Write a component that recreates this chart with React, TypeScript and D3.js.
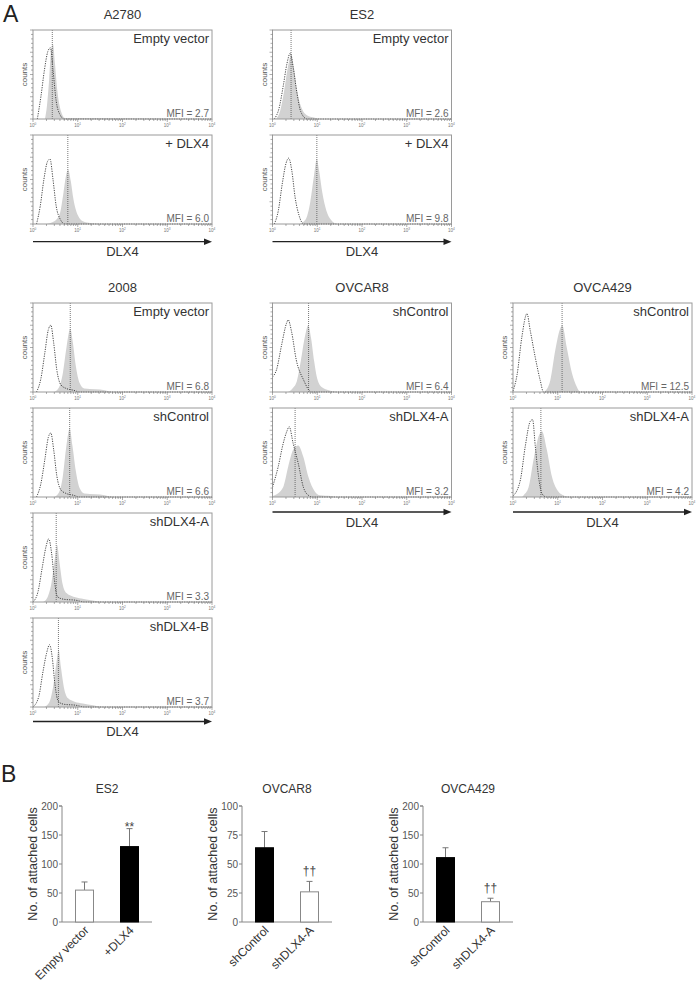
import React from 'react'
import * as d3 from 'd3'

type Pt = [number, number]

// ---------- panel A: flow histograms ----------
// points are [fluorescence, relative counts]; fill = DLX4 stain, iso = isotype control (dotted)
const topLines = ['A2780', 'ES2']
const bottomLines = ['2008', 'OVCAR8', 'OVCA429']

const a2780Labels = ['Empty vector', '+ DLX4']
const a2780Mfi = [2.7, 6.0]
const a2780Fill: Pt[][] = [
  [[1.85, 0], [2.05, 0.15], [2.3, 0.45], [2.55, 0.78], [2.8, 0.84], [3.1, 0.62], [3.5, 0.32], [4.2, 0.09], [5.2, 0.01], [10000, 0]],
  [[2, 0], [3, 0.03], [4, 0.12], [4.8, 0.35], [5.5, 0.55], [6.1, 0.61], [7, 0.48], [8, 0.28], [10, 0.1], [13, 0.03], [19, 0.01], [30, 0], [10000, 0]],
]
const a2780Iso: Pt[][] = [
  [[1.25, 0], [1.5, 0.25], [1.8, 0.55], [2.15, 0.76], [2.45, 0.8], [2.8, 0.55], [3.3, 0.2], [4, 0.05], [5, 0], [10000, 0]],
  [[1.2, 0], [1.45, 0.2], [1.75, 0.5], [2.1, 0.7], [2.4, 0.73], [2.8, 0.5], [3.3, 0.2], [4, 0.06], [5.2, 0], [10000, 0]],
]

const es2Labels = ['Empty vector', '+ DLX4']
const es2Mfi = [2.6, 9.8]
const es2Fill: Pt[][] = [
  [[1.2, 0], [1.5, 0.1], [1.8, 0.3], [2.2, 0.58], [2.6, 0.72], [3, 0.58], [3.6, 0.3], [4.5, 0.12], [6, 0.04], [8, 0.02], [12, 0], [10000, 0]],
  [[4, 0], [5.5, 0.05], [7, 0.25], [8.5, 0.55], [9.8, 0.73], [11, 0.6], [13, 0.35], [16, 0.15], [20, 0.05], [28, 0], [10000, 0]],
]
const es2Iso: Pt[][] = [
  [[1.1, 0], [1.4, 0.12], [1.75, 0.38], [2.1, 0.62], [2.5, 0.74], [2.9, 0.58], [3.5, 0.3], [4.3, 0.08], [5.9, 0], [10000, 0]],
  [[1.1, 0], [1.35, 0.15], [1.65, 0.45], [2, 0.68], [2.3, 0.74], [2.7, 0.6], [3.2, 0.3], [3.9, 0.1], [5, 0], [10000, 0]],
]

const c2008Labels = ['Empty vector', 'shControl', 'shDLX4-A', 'shDLX4-B']
const c2008Mfi = [6.8, 6.6, 3.3, 3.7]
const c2008Fill: Pt[][] = [
  [[3, 0], [3.8, 0.05], [4.6, 0.2], [5.6, 0.5], [6.8, 0.71], [7.8, 0.55], [9, 0.3], [11, 0.1], [14, 0.04], [25, 0.03], [40, 0.02], [60, 0], [10000, 0]],
  [[3, 0], [3.8, 0.05], [4.6, 0.22], [5.5, 0.55], [6.6, 0.77], [7.6, 0.58], [9, 0.3], [11, 0.1], [14, 0.04], [25, 0.03], [40, 0.02], [60, 0], [10000, 0]],
  [[1.7, 0], [2.1, 0.05], [2.6, 0.22], [3.1, 0.5], [3.45, 0.64], [3.9, 0.45], [4.6, 0.2], [5.6, 0.1], [8, 0.06], [12, 0.04], [20, 0.02], [35, 0], [10000, 0]],
  [[1.8, 0], [2.3, 0.05], [2.8, 0.22], [3.35, 0.5], [3.75, 0.64], [4.2, 0.45], [5, 0.2], [6, 0.1], [8.5, 0.06], [13, 0.04], [22, 0.02], [35, 0], [10000, 0]],
]
const c2008Iso: Pt[][] = [
  [[1.2, 0], [1.5, 0.15], [1.85, 0.45], [2.2, 0.7], [2.5, 0.75], [2.9, 0.55], [3.4, 0.25], [4.2, 0.08], [5.5, 0.04], [8, 0.02], [11, 0], [10000, 0]],
  [[1.2, 0], [1.5, 0.15], [1.85, 0.43], [2.2, 0.67], [2.5, 0.72], [2.9, 0.53], [3.4, 0.24], [4.2, 0.08], [5.5, 0.04], [8, 0.02], [11, 0], [10000, 0]],
  [[1, 0], [1.3, 0.12], [1.6, 0.38], [1.95, 0.62], [2.25, 0.71], [2.6, 0.55], [3, 0.25], [3.5, 0.06], [5, 0.03], [9, 0.02], [14, 0], [10000, 0]],
  [[1, 0], [1.35, 0.12], [1.65, 0.38], [2, 0.6], [2.35, 0.7], [2.7, 0.55], [3.1, 0.25], [3.7, 0.06], [5, 0.03], [9, 0.02], [14, 0], [10000, 0]],
]

const ovcar8Labels = ['shControl', 'shDLX4-A']
const ovcar8Mfi = [6.4, 3.2]
const ovcar8Fill: Pt[][] = [
  [[2.2, 0], [2.8, 0.04], [3.5, 0.12], [4.3, 0.35], [5.2, 0.6], [6.3, 0.75], [7.3, 0.6], [8.5, 0.35], [10, 0.15], [13, 0.05], [18, 0.02], [30, 0], [10000, 0]],
  [[1, 0.01], [1.12, 0.02], [1.73, 0.11], [2.24, 0.34], [2.9, 0.53], [3.75, 0.58], [4.9, 0.45], [6.3, 0.23], [8.9, 0.06], [11.4, 0.02], [20, 0.01], [25, 0], [10000, 0]],
]
const ovcar8Iso: Pt[][] = [
  [[1, 0.17], [1.23, 0.25], [1.6, 0.53], [2.05, 0.77], [2.24, 0.81], [2.66, 0.68], [3.4, 0.36], [4.9, 0.14], [7.4, 0], [10000, 0]],
  [[1, 0.11], [1.34, 0.34], [1.73, 0.6], [2.1, 0.74], [2.36, 0.79], [2.9, 0.6], [3.75, 0.38], [4.9, 0.11], [6.3, 0.02], [8, 0], [10000, 0]],
]

const ovca429Labels = ['shControl', 'shDLX4-A']
const ovca429Mfi = [12.5, 4.2]
const ovca429Fill: Pt[][] = [
  [[5, 0], [6.8, 0.13], [8.8, 0.47], [11.3, 0.71], [12.6, 0.75], [15.9, 0.5], [20.6, 0.22], [26.6, 0.06], [32, 0], [10000, 0]],
  [[1.6, 0], [1.73, 0.02], [2.23, 0.11], [2.88, 0.42], [3.72, 0.68], [4.43, 0.74], [5.7, 0.53], [7.4, 0.23], [10.4, 0.06], [13.4, 0.02], [17, 0], [10000, 0]],
]
const ovca429Iso: Pt[][] = [
  [[1, 0.01], [1.23, 0.19], [1.58, 0.62], [2.05, 0.88], [2.43, 0.69], [3.14, 0.39], [4.06, 0.13], [4.8, 0], [10000, 0]],
  [[1, 0.01], [1.46, 0.19], [1.88, 0.57], [2.43, 0.85], [2.74, 0.87], [3.15, 0.57], [3.72, 0.23], [4.43, 0.04], [5.5, 0], [10000, 0]],
]

// ---------- panel B: adhesion assay ----------
const es2Cats = ['Empty vector', '+DLX4']
const es2Cells = [55, 130]
const es2Err = [14, 31]
const es2Sig = ['', '**']

const ovcar8Cats = ['shControl', 'shDLX4-A']
const ovcar8Cells = [64, 26]
const ovcar8Err = [14, 9]
const ovcar8Sig = ['', '††']

const ovca429Cats = ['shControl', 'shDLX4-A']
const ovca429Cells = [111, 35]
const ovca429Err = [17, 6]
const ovca429Sig = ['', '††']

const FONT = '"Liberation Sans", Arial, Helvetica, sans-serif'
const BOX_W = 179
const BOX_H = 89

function Histogram(props: { x: number; y: number; label: string; mfi: number; fill: Pt[]; iso: Pt[] }) {
  const { x, y, label, mfi, fill, iso } = props
  const xs = d3.scaleLog().domain([1, 10000]).range([x, x + BOX_W])
  const ys = d3.scaleLinear().domain([0, 1]).range([y + BOX_H, y])
  const area = d3.area<Pt>().x(d => xs(d[0])).y0(y + BOX_H).y1(d => ys(d[1])).curve(d3.curveMonotoneX)
  const line = d3.line<Pt>().x(d => xs(d[0])).y(d => ys(d[1])).curve(d3.curveMonotoneX)
  const xt = xs.ticks()
  const yt = ys.ticks(20)
  return (
    <g>
      <path d={area(fill) || ''} fill="#d2d2d2" />
      <path d={line(iso) || ''} fill="none" stroke="#333" strokeWidth={0.9} strokeDasharray="1.2,1.2" />
      <line x1={xs(mfi)} x2={xs(mfi)} y1={y} y2={y + BOX_H} stroke="#555" strokeWidth={0.8} strokeDasharray="1,1" />
      <rect x={x} y={y} width={BOX_W} height={BOX_H} fill="none" stroke="#9a9a9a" strokeWidth={1} />
      {xt.map((t, i) => {
        const major = Math.abs(Math.log10(t) - Math.round(Math.log10(t))) < 1e-9
        return <line key={i} x1={xs(t)} x2={xs(t)} y1={y + BOX_H} y2={y + BOX_H + (major ? 3 : 2)} stroke="#777" strokeWidth={0.6} />
      })}
      {yt.map((t, i) => (
        <line key={i} x1={x} x2={x - (i % 5 === 0 ? 3 : 2)} y1={ys(t)} y2={ys(t)} stroke="#777" strokeWidth={0.6} />
      ))}
      {[0, 1, 2, 3, 4].map(e => (
        <text key={e} x={xs(Math.pow(10, e))} y={y + BOX_H + 8} fontSize={4.5} fill="#777" textAnchor="middle" fontFamily={FONT}>
          10<tspan dy={-2} fontSize={3.2}>{e}</tspan>
        </text>
      ))}
      <text x={x - 6} y={y + BOX_H / 2} fontSize={8} fill="#555" textAnchor="middle" fontFamily={FONT}
        transform={`rotate(-90 ${x - 6} ${y + BOX_H / 2})`}>counts</text>
      <text x={x + BOX_W - 3} y={y + 13} fontSize={13} fill="#333" textAnchor="end" fontFamily={FONT}>{label}</text>
      <text x={x + BOX_W - 3} y={y + BOX_H - 2.5} fontSize={10} fill="#666" textAnchor="end" fontFamily={FONT}>MFI = {mfi.toFixed(1)}</text>
    </g>
  )
}

function Column(props: { x: number; y: number; title: string; labels: string[]; mfi: number[]; fill: Pt[][]; iso: Pt[][]; arrowGap: number }) {
  const { x, y, title, labels, mfi, fill, iso, arrowGap } = props
  const bottom = y + (labels.length - 1) * 105 + BOX_H
  const ay = bottom + arrowGap
  return (
    <g>
      <text x={x + BOX_W / 2} y={y - 11} fontSize={13} fill="#333" textAnchor="middle" fontFamily={FONT}>{title}</text>
      {labels.map((l, i) => (
        <Histogram key={l} x={x} y={y + i * 105} label={l} mfi={mfi[i]} fill={fill[i]} iso={iso[i]} />
      ))}
      <line x1={x} x2={x + BOX_W - 6} y1={ay} y2={ay} stroke="#222" strokeWidth={1.3} />
      <path d={`M${x + BOX_W},${ay} L${x + BOX_W - 8},${ay - 3.2} L${x + BOX_W - 8},${ay + 3.2} Z`} fill="#222" />
      <text x={x + BOX_W / 2} y={ay + 14.5} fontSize={13} fill="#333" textAnchor="middle" fontFamily={FONT}>DLX4</text>
    </g>
  )
}

function BarPanel(props: { x: number; title: string; cats: string[]; vals: number[]; errs: number[]; sig: string[]; fills: string[]; yMax: number }) {
  const { x, title, cats, vals, errs, sig, fills, yMax } = props
  const w = 90, yb = 922, yt = 806
  const xs = d3.scaleBand().domain(cats).range([x, x + w]).paddingInner(0.6).paddingOuter(0.3)
  const ys = d3.scaleLinear().domain([0, yMax]).range([yb, yt])
  const ticks = d3.range(0, yMax + 1, yMax / 4)
  const bw = xs.bandwidth()
  return (
    <g fontFamily={FONT}>
      <text x={x + w / 2} y={793} fontSize={12} fill="#333" textAnchor="middle">{title}</text>
      <path d={`M${x - 3},${yt} H${x} V${yb} H${x + w}`} fill="none" stroke="#888" strokeWidth={1} />
      {ticks.map(t => (
        <g key={t}>
          <line x1={x - 3} x2={x} y1={ys(t)} y2={ys(t)} stroke="#888" strokeWidth={1} />
          <text x={x - 4} y={ys(t) + 3.5} fontSize={10} fill="#555" textAnchor="end">{t}</text>
        </g>
      ))}
      <text x={x - 25} y={(yb + yt) / 2} fontSize={12.5} fill="#333" textAnchor="middle"
        transform={`rotate(-90 ${x - 25} ${(yb + yt) / 2})`}>No. of attached cells</text>
      {cats.map((c, i) => {
        const bx = xs(c) as number
        const cx = bx + bw / 2
        const top = ys(vals[i] + errs[i])
        return (
          <g key={c}>
            <line x1={cx} x2={cx} y1={ys(vals[i])} y2={top} stroke="#777" strokeWidth={1} />
            <line x1={cx - 3} x2={cx + 3} y1={top} y2={top} stroke="#777" strokeWidth={1} />
            <rect x={bx} y={ys(vals[i])} width={bw} height={yb - ys(vals[i])} fill={fills[i]}
              stroke={fills[i] === 'black' ? 'black' : '#888'} strokeWidth={1} />
            {sig[i] && (
              <text x={cx} y={sig[i] === '**' ? top + 2 : top - 6} fontSize={12} fill="#444" textAnchor="middle">{sig[i]}</text>
            )}
            <text x={cx + 5} y={yb + 9} fontSize={12} fill="#333" textAnchor="end"
              transform={`rotate(-45 ${cx + 5} ${yb + 9})`}>{c}</text>
          </g>
        )
      })}
    </g>
  )
}

export default function App() {
  return (
    <svg width={696} height={986} style={{ position: 'absolute', left: 0, top: 0, background: 'white' }}>
      <rect width={696} height={986} fill="white" />
      <text x={3} y={22} fontSize={23} fill="#222" fontFamily={FONT}>A</text>
      <Column x={33} y={30} title={topLines[0]} labels={a2780Labels} mfi={a2780Mfi} fill={a2780Fill} iso={a2780Iso} arrowGap={17.7} />
      <Column x={272.5} y={30} title={topLines[1]} labels={es2Labels} mfi={es2Mfi} fill={es2Fill} iso={es2Iso} arrowGap={17.7} />
      <Column x={33} y={303} title={bottomLines[0]} labels={c2008Labels} mfi={c2008Mfi} fill={c2008Fill} iso={c2008Iso} arrowGap={14.5} />
      <Column x={272.5} y={303} title={bottomLines[1]} labels={ovcar8Labels} mfi={ovcar8Mfi} fill={ovcar8Fill} iso={ovcar8Iso} arrowGap={15} />
      <Column x={513} y={303} title={bottomLines[2]} labels={ovca429Labels} mfi={ovca429Mfi} fill={ovca429Fill} iso={ovca429Iso} arrowGap={15} />

      <text x={1} y={782} fontSize={23} fill="#222" fontFamily={FONT}>B</text>
      <BarPanel x={62} title="ES2" cats={es2Cats} vals={es2Cells} errs={es2Err} sig={es2Sig} fills={['white', 'black']} yMax={200} />
      <BarPanel x={242} title="OVCAR8" cats={ovcar8Cats} vals={ovcar8Cells} errs={ovcar8Err} sig={ovcar8Sig} fills={['black', 'white']} yMax={100} />
      <BarPanel x={423} title="OVCA429" cats={ovca429Cats} vals={ovca429Cells} errs={ovca429Err} sig={ovca429Sig} fills={['black', 'white']} yMax={200} />
    </svg>
  )
}
